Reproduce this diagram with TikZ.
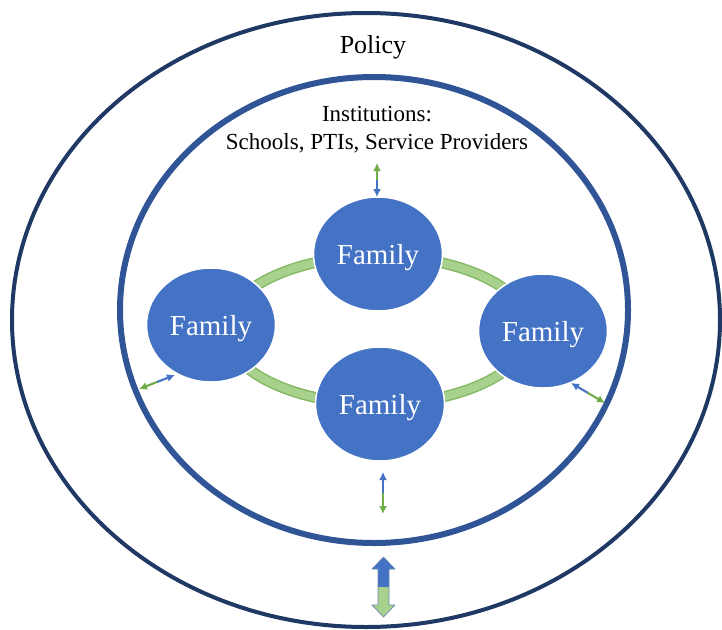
\documentclass[tikz,border=0pt]{standalone}
\usepackage{fontspec}
\setmainfont{Liberation Serif}
\usepackage{xcolor}
\usetikzlibrary{arrows.meta,positioning,shapes.geometric,calc}

\definecolor{navy}{HTML}{203864}
\definecolor{ringblue}{HTML}{2F5597}
\definecolor{famblue}{HTML}{4472C4}
\definecolor{leaf}{HTML}{70AD47}
\definecolor{leaflight}{HTML}{A9D18E}
\definecolor{edgegray}{HTML}{6A86B0}

\begin{document}
\begin{tikzpicture}[x=1pt,y=-1pt, family/.style={ellipse,fill=famblue,draw=white,line width=1.5pt,minimum width=129pt,minimum height=114pt,text=white,text depth=0pt,font=\fontsize{29}{34}\selectfont}, lbl/.style={font=\fontsize{23}{28}\selectfont,inner sep=0pt,anchor=base}, barr/.style={-{Latex[length=8pt,width=8pt]},famblue,line width=2.1pt}, garr/.style={-{Latex[length=8pt,width=8pt]},leaf,line width=2.1pt}]
\useasboundingbox (0,0) rectangle (722,629);
% the two levels round the families
\draw[navy,line width=4pt] (366,320) ellipse [x radius=354pt,y radius=307pt];
\draw[ringblue,line width=6pt] (374,310) ellipse [x radius=254pt,y radius=233pt];
\node[font=\fontsize{26}{30}\selectfont,inner sep=0pt,anchor=base] (policy) at (373,53) {Policy};
\node[lbl] (inst) at (377,121) {Institutions:};
\node[lbl] (schools) at (377,149) {Schools, PTIs, Service Providers};
% green ring behind the families
\draw[leaf!85,line width=11pt] (378,330) ellipse [x radius=152pt,y radius=74pt];
\draw[leaflight,line width=8pt] (378,330) ellipse [x radius=152pt,y radius=74pt];
\node[family] (famtop) at (378,254) {Family};
\node[family] (famleft) at (211,325) {Family};
\node[family] (famright) at (543,331) {Family};
\node[family] (fambot) at (380,404) {Family};
% small two-way arrows: blue end at the family, green end outside
\coordinate (gN) at (377,163); \coordinate (bN) at (377,197);
\coordinate (bS) at (383,472); \coordinate (gS) at (383,514);
\coordinate (gW) at (139,389); \coordinate (bW) at (175,375);
\coordinate (bE) at (571,383); \coordinate (gE) at (605,403);
\foreach \s in {N,S,W,E} {
  \draw[barr] ($(g\s)!.5!(b\s)$) -- (b\s);
  \draw[garr] ($(b\s)!.5!(g\s)$) -- (g\s);
}
% block arrow between the outer levels
\coordinate (gate) at (383.5,587);
\fill[famblue] (gate) ++(-5.5,0) -- ++(0,-18) -- ++(-6,0) -- ++(11.5,-12) -- ++(11.5,12) -- ++(-6,0) -- ++(0,18) -- cycle;
\fill[leaflight] (gate) ++(-5.5,0) -- ++(0,18) -- ++(-6,0) -- ++(11.5,12) -- ++(11.5,-12) -- ++(-6,0) -- ++(0,-18) -- cycle;
\draw[edgegray,line width=.7pt,line join=round] (gate) ++(-5.5,0) -- ++(0,-18) -- ++(-6,0) -- ++(11.5,-12) -- ++(11.5,12) -- ++(-6,0) -- ++(0,36) -- ++(6,0) -- ++(-11.5,12) -- ++(-11.5,-12) -- ++(6,0) -- cycle;
\end{tikzpicture}
\end{document}
